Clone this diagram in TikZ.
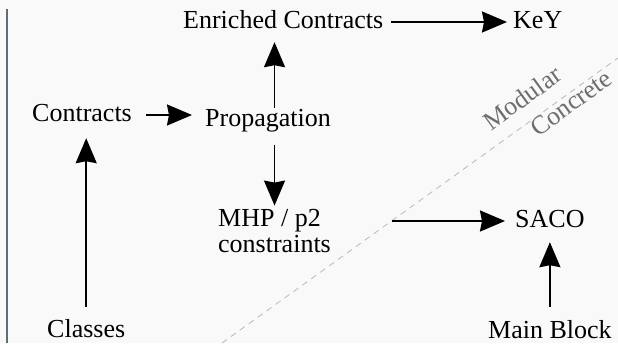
\documentclass[tikz,border=0pt]{standalone}
\usepackage{fontspec}
\setmainfont{Liberation Serif}
\usepackage{tikz}
\usetikzlibrary{positioning,calc,arrows.meta}
\definecolor{bgcol}{RGB}{249,249,249}
\definecolor{rulecol}{RGB}{95,110,117}
\definecolor{splitcol}{RGB}{185,185,185}
\definecolor{sidecol}{RGB}{110,110,110}
\tikzstyle{txt} = [inner sep=0pt, anchor=base west, font=\fontsize{26}{26}\selectfont]
\tikzstyle{data} = [txt, text height=18pt, text depth=6pt]
\tikzstyle{link} = [->,>={Stealth[length=25pt,width=21pt,inset=2pt]},line width=1.8pt]
\tikzstyle{side} = [inner sep=0pt, rotate=36, text=sidecol, font=\fontsize{26}{26}\selectfont]

\begin{document}
\begin{tikzpicture}[x=1pt,y=-1pt]
	\useasboundingbox [fill=bgcol] (0,0) rectangle (618,343);
	% left rule and modular/concrete split
	\draw [rulecol, line width=1.5pt] (7,9) -- (7,343);
	\draw [splitcol, line width=0.8pt, dash pattern=on 6pt off 5pt] (222,343) -- (618,58);
	\node (modular) [side] at (522,98) {Modular};
	\node (concrete) [side] at (571,103) {Concrete};
	% nodes
	\node (enriched) [data] at (183,28) {Enriched Contracts};
	\node (key) [data] at (513,28) {KeY};
	\node (contracts) [data] at (32,121) {Contracts};
	\node (prop) [data] at (205,126) {Propagation};
	\node (mhp) [txt, align=left] at (218,252) {MHP / p2\\constraints};
	\node (saco) [data] at (515,227) {SACO};
	\node (main) [data] at (488,338) {Main Block};
	\node (classes) [data] at (47,337) {Classes};
	% edges
	\draw [link, shorten <=8pt, shorten >=6pt] (enriched.east) -- (key.west);
	\draw [link, shorten <=14pt, shorten >=13pt] (contracts.east) -- (contracts.east -| prop.west);
	\draw [link, shorten >=8pt] (mhp.north |- prop.north) -- (mhp.north |- enriched.south);
	\draw [link, shorten <=13pt, shorten >=3pt] (mhp.north |- prop.south) -- (mhp.north);
	\draw [link, shorten <=61pt, shorten >=10pt] (mhp.east |- saco.west) -- (saco.west);
	\draw [link, shorten <=13pt, shorten >=9pt] (main.north) -- (saco.south);
	\draw [link, shorten <=12pt, shorten >=11pt] (classes.north) -- (classes.north |- contracts.south);
\end{tikzpicture}
\end{document}
